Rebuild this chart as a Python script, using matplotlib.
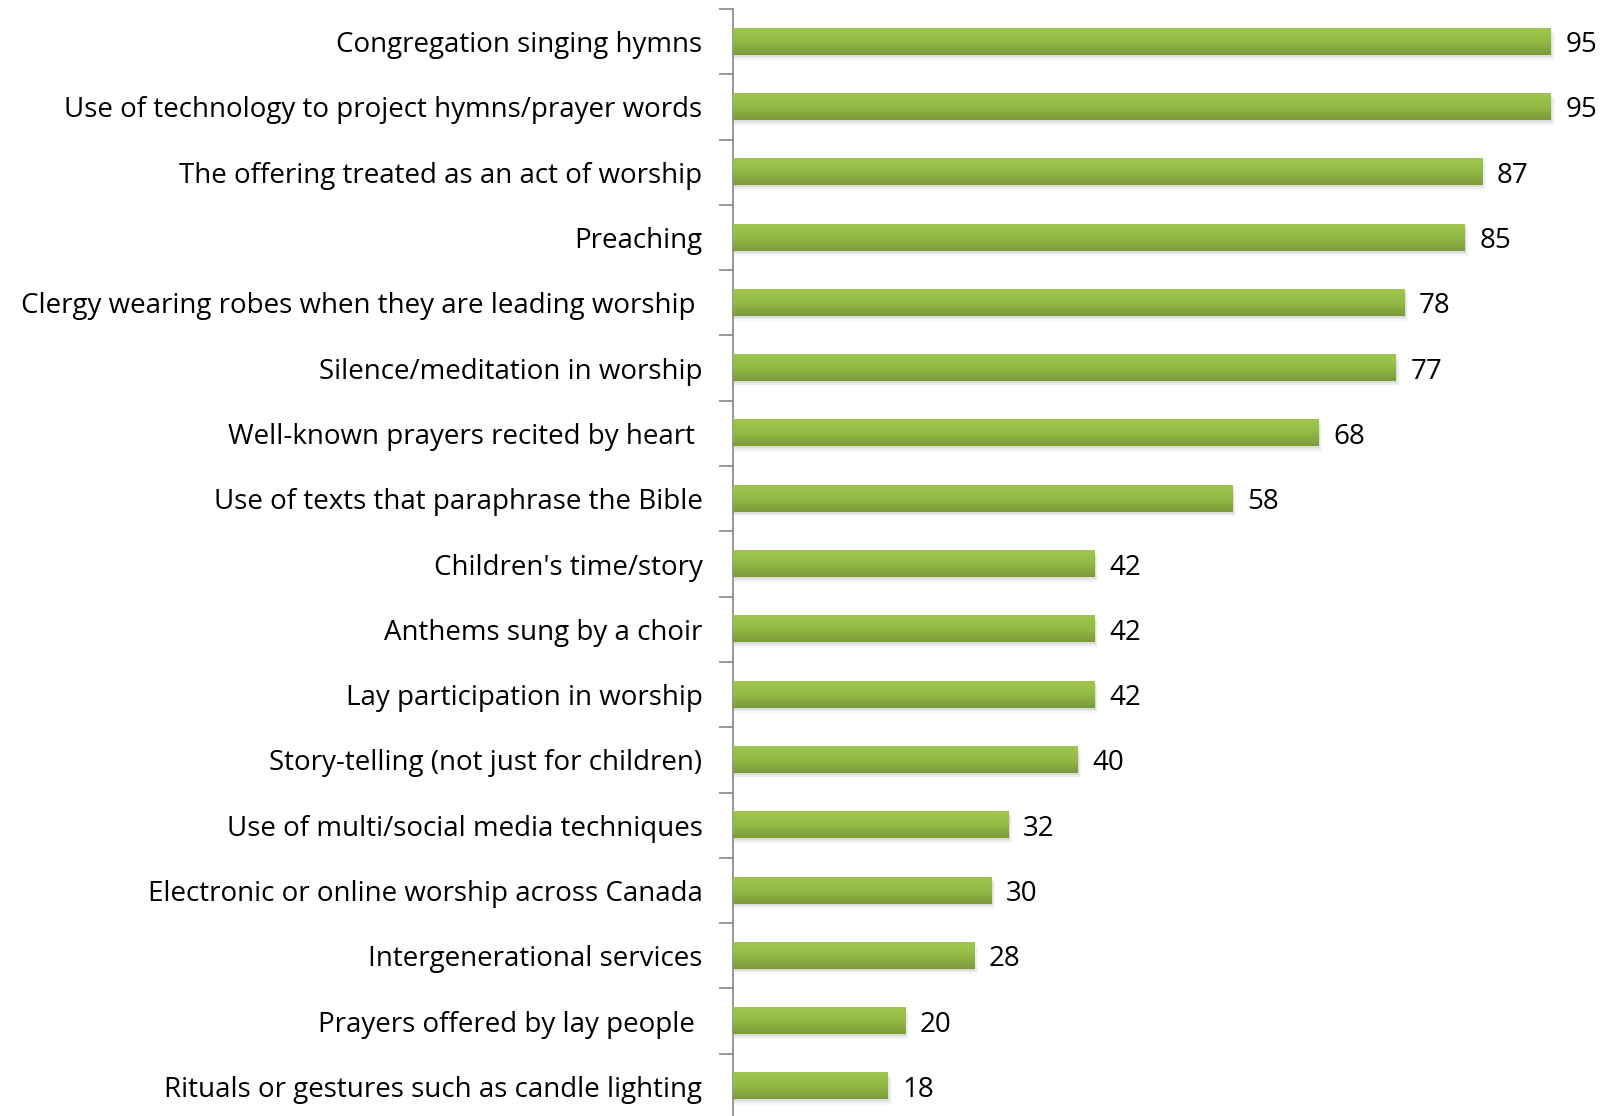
import numpy as np
import matplotlib.pyplot as plt
from matplotlib.colors import LinearSegmentedColormap

# categories, top to bottom
categories = [
    "Congregation singing hymns",
    "Use of technology to project hymns/prayer words",
    "The offering treated as an act of worship",
    "Preaching",
    "Clergy wearing robes when they are leading worship ",
    "Silence/meditation in worship",
    "Well-known prayers recited by heart ",
    "Use of texts that paraphrase the Bible",
    "Children's time/story",
    "Anthems sung by a choir",
    "Lay participation in worship",
    "Story-telling (not just for children)",
    "Use of multi/social media techniques",
    "Electronic or online worship across Canada",
    "Intergenerational services",
    "Prayers offered by lay people ",
    "Rituals or gestures such as candle lighting",
]
values = [95, 95, 87, 85, 78, 77, 68, 58, 42, 42, 42, 40, 32, 30, 28, 20, 18]

plt.rcParams['font.family'] = ['Open Sans', 'DejaVu Sans']

fig = plt.figure(figsize=(16.08, 11.16), dpi=100)
ax = fig.add_axes([733 / 1608, -3 / 1116, 861 / 1608, 1110 / 1116])

y = np.arange(len(categories))
h = 0.4
bars = ax.barh(y, values, height=h, color='#8DB043', zorder=2)

# vertical gradient + soft shadow on every bar
cmap = LinearSegmentedColormap.from_list('g', ['#A0C74C', '#93BA45', '#7A9A3B'])
grad = np.linspace(0, 1, 64).reshape(-1, 1)
for b in bars:
    x0, y0 = b.get_x(), b.get_y()
    w, bh = b.get_width(), b.get_height()
    for k, a in enumerate([0.10, 0.07, 0.04]):
        off = 0.03 + k * 0.025
        ax.fill_between([x0, x0 + w + 0.15 + k * 0.15], y0 + off, y0 + bh + off,
                        color='#555555', alpha=a, lw=0, zorder=1)
    ax.imshow(grad, extent=[x0, x0 + w, y0 + bh, y0], cmap=cmap,
              aspect='auto', zorder=3, interpolation='bilinear')
    ax.text(x0 + w + 1.7, y0 + bh / 2, f"{w:g}", va='center_baseline', ha='left',
            fontsize=20, color='black', zorder=4)

ax.set_xlim(0, 100)
ax.set_ylim(len(categories) - 0.5, -0.5)

ax.set_yticks(y)
ax.set_yticklabels(categories, fontsize=20, va='center_baseline')
ax.tick_params(axis='y', which='major', length=0, pad=22)
ax.set_yticks(np.arange(-0.5, len(categories), 1), minor=True)
ax.tick_params(axis='y', which='minor', length=10, width=1.2, color='#868686')
ax.set_xticks([])

for s in ['top', 'right', 'bottom']:
    ax.spines[s].set_visible(False)
ax.spines['left'].set_color('#868686')
ax.spines['left'].set_linewidth(1.2)

fig.savefig('out.png', dpi=100)
